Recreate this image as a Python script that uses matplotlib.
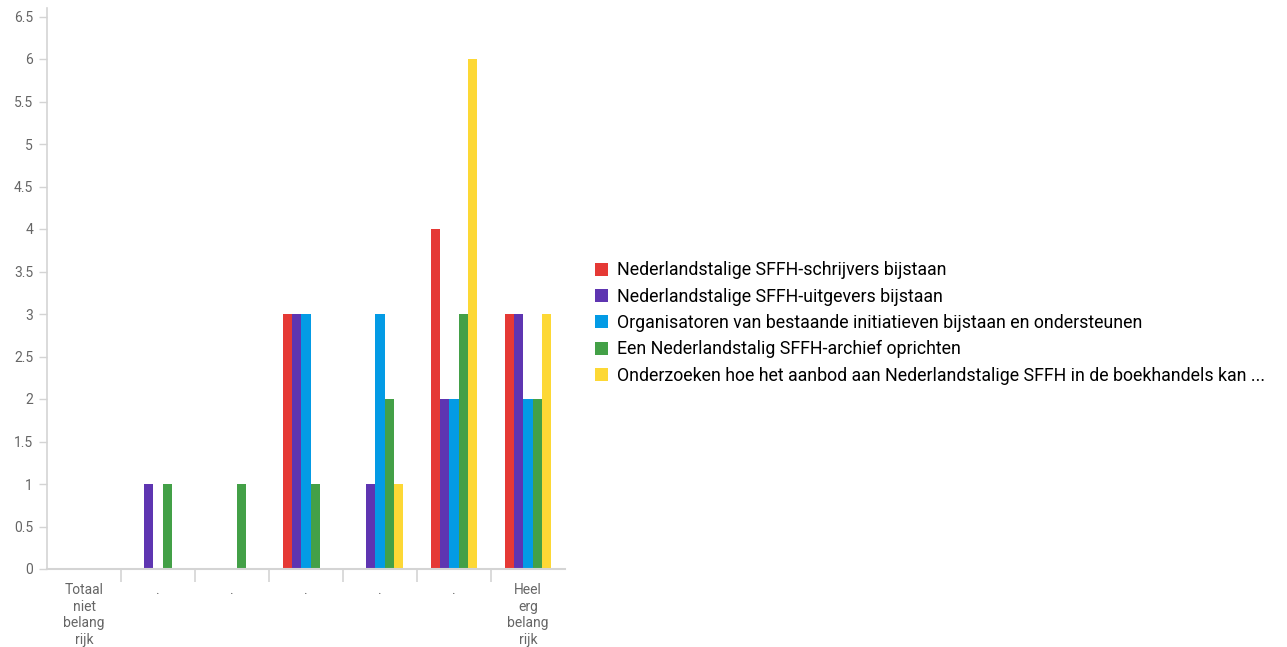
import numpy as np
import matplotlib
matplotlib.use("Agg")
import matplotlib.pyplot as plt
from matplotlib.patches import Patch

plt.rcParams["font.family"] = ["Roboto", "DejaVu Sans"]

categories = [
    "Totaal\nniet\nbelang\nrijk",
    ".",
    ".",
    ".",
    ".",
    ".",
    "Heel\nerg\nbelang\nrijk",
]

series_names = [
    "Nederlandstalige SFFH-schrijvers bijstaan",
    "Nederlandstalige SFFH-uitgevers bijstaan",
    "Organisatoren van bestaande initiatieven bijstaan en ondersteunen",
    "Een Nederlandstalig SFFH-archief oprichten",
    "Onderzoeken hoe het aanbod aan Nederlandstalige SFFH in de boekhandels kan ...",
]

schrijvers = [0, 0, 0, 3, 0, 4, 3]
uitgevers = [0, 1, 0, 3, 1, 2, 3]
organisatoren = [0, 0, 0, 3, 3, 2, 2]
archief = [0, 1, 1, 1, 2, 3, 2]
boekhandels = [0, 0, 0, 0, 1, 6, 3]

colors = ["#E53935", "#5E35B1", "#039BE5", "#43A047", "#FDD835"]

series = [schrijvers, uitgevers, organisatoren, archief, boekhandels]

fig = plt.figure(figsize=(12.87, 6.47), dpi=100)
ax = fig.add_axes([47 / 1287, 1 - 569 / 647, (565 - 47) / 1287, (569 - 8) / 647])

x = np.arange(len(categories))
bar_w = 0.122
for i, (vals, col) in enumerate(zip(series, colors)):
    ax.bar(x + (i - 2) * bar_w, vals, width=bar_w, color=col, linewidth=0)

ax.set_xlim(-0.5, len(categories) - 0.5)
ax.set_ylim(0, 6.6)
ax.set_yticks(np.arange(0, 6.51, 0.5))
ax.set_yticklabels(["0"] + ["{:g}".format(v) for v in np.arange(0.5, 6.51, 0.5)])

# category labels at centers, tick marks at boundaries
ax.set_xticks(x)
ax.set_xticklabels(categories, linespacing=1.25)
ax.tick_params(axis="x", which="major", length=0, pad=10, labelsize=10, labelcolor="#666666")
ax.set_xticks(np.arange(0.5, len(categories) - 0.5, 1), minor=True)
ax.tick_params(axis="x", which="minor", length=9, width=1.2, color="#d4d4d4")
ax.tick_params(axis="y", length=6, width=1, color="#d4d4d4", labelsize=10,
               labelcolor="#666666", pad=4)

for s in ["top", "right"]:
    ax.spines[s].set_visible(False)
ax.spines["left"].set_color("#d4d4d4")
ax.spines["bottom"].set_color("#d4d4d4")
ax.spines["left"].set_linewidth(1.2)
ax.spines["bottom"].set_linewidth(1.5)

handles = [Patch(facecolor=c, edgecolor="none") for c in colors]
fig.legend(
    handles,
    series_names,
    loc="center left",
    bbox_to_anchor=(579 / 1287, 1 - 323 / 647),
    frameon=False,
    fontsize=12.8,
    handlelength=0.75,
    handleheight=0.75,
    handletextpad=0.5,
    labelspacing=0.47,
)

plt.savefig("out.png", dpi=100)
